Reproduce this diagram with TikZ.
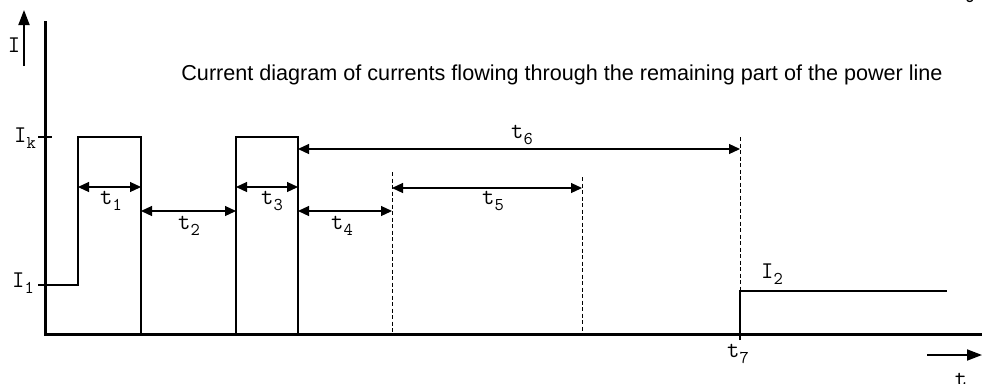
\documentclass[tikz,border=0pt]{standalone}
\usepackage{fontspec}
\setmainfont{Liberation Sans}
\usetikzlibrary{arrows.meta}

\tikzset{
	axis/.style={line width=3pt},
	pulse/.style={line width=2pt},
	dim/.style={line width=1.2pt,{Triangle[length=11pt,width=10pt]}-{Triangle[length=11pt,width=10pt]}},
	guide/.style={line width=0.8pt,dash pattern=on 4pt off 2.5pt},
	dirarrow/.style={line width=1.8pt,-{Triangle[length=15pt,width=11pt]}},
	lbl/.style={font=\ttfamily\fontsize{24}{24}\selectfont,inner sep=0pt}
}
\newcommand{\tsub}[2]{#1\raisebox{-0.25em}{\fontsize{18}{18}\selectfont#2}}

\begin{document}
\begin{tikzpicture}[x=1pt,y=-1pt]
	\useasboundingbox (0,0) rectangle (982,383);

	\coordinate (O) at (45,334);
	\coordinate (Ytop) at (45,21);
	\coordinate (Xend) at (982,334);
	\draw[axis] (Ytop) -- (O) -- (Xend);

	\coordinate (Ibot) at (24,66);
	\coordinate (Itop) at (24,10);
	\draw[dirarrow] (Ibot) -- (Itop);
	\node[lbl] (Ilbl) at (14,45) {I};

	\coordinate (tleft) at (927,355);
	\coordinate (tright) at (982,355);
	\draw[dirarrow] (tleft) -- (tright);
	\node[lbl] (tbot) at (961,380) {t};
	\node[lbl] (ttop) at (969,-4) {t};

	\node[font=\fontsize{21.6}{24}\selectfont,inner sep=0pt,anchor=base] (title) at (562,80) {Current diagram of currents flowing through the remaining part of the power line};

	\coordinate (Ik) at (45,137);
	\coordinate (I1) at (45,285);
	\draw[pulse] (Ik) +(-7,0) -- +(7,0);
	\draw[pulse] (I1) +(-7,0) -- +(7,0);
	\node[lbl] (Iklbl) at (25,138) {\tsub{I}{k}};
	\node[lbl] (I1lbl) at (23,283) {\tsub{I}{1}};

	\coordinate (a1) at (78,285);
	\coordinate (a2) at (78,137);
	\coordinate (a3) at (141,137);
	\coordinate (a4) at (141,334);
	\draw[pulse] (I1) -- (a1) -- (a2) -- (a3) -- (a4);

	\coordinate (b1) at (236,334);
	\coordinate (b2) at (236,137);
	\coordinate (b3) at (298,137);
	\coordinate (b4) at (298,334);
	\draw[pulse] (b1) -- (b2) -- (b3) -- (b4);

	\coordinate (c1) at (740,340);
	\coordinate (c2) at (740,291);
	\coordinate (c3) at (947,291);
	\draw[pulse] (c1) -- (c2) -- (c3);

	\coordinate (d1top) at (392,172);
	\coordinate (d1bot) at (392,334);
	\coordinate (d2top) at (582,177);
	\coordinate (d2bot) at (582,334);
	\coordinate (d3top) at (740,137);
	\draw[guide] (d1top) -- (d1bot);
	\draw[guide] (d2top) -- (d2bot);
	\draw[guide] (d3top) -- (c2);

	\draw[dim] (78,187) coordinate (t1l) -- (141,187) coordinate (t1r);
	\draw[dim] (141,211) coordinate (t2l) -- (236,211) coordinate (t2r);
	\draw[dim] (236,187) coordinate (t3l) -- (298,187) coordinate (t3r);
	\draw[dim] (298,211) coordinate (t4l) -- (392,211) coordinate (t4r);
	\draw[dim] (392,188) coordinate (t5l) -- (582,188) coordinate (t5r);
	\draw[dim] (298,149) coordinate (t6l) -- (740,149) coordinate (t6r);

	\node[lbl] (t1) at (111,201) {\tsub{t}{1}};
	\node[lbl] (t2) at (189,226) {\tsub{t}{2}};
	\node[lbl] (t3) at (272,201) {\tsub{t}{3}};
	\node[lbl] (t4) at (342,226) {\tsub{t}{4}};
	\node[lbl] (t5) at (493,201) {\tsub{t}{5}};
	\node[lbl] (t6) at (522,135) {\tsub{t}{6}};
	\node[lbl] (t7) at (738,354) {\tsub{t}{7}};
	\node[lbl] (I2) at (772,274) {\tsub{I}{2}};
\end{tikzpicture}
\end{document}
